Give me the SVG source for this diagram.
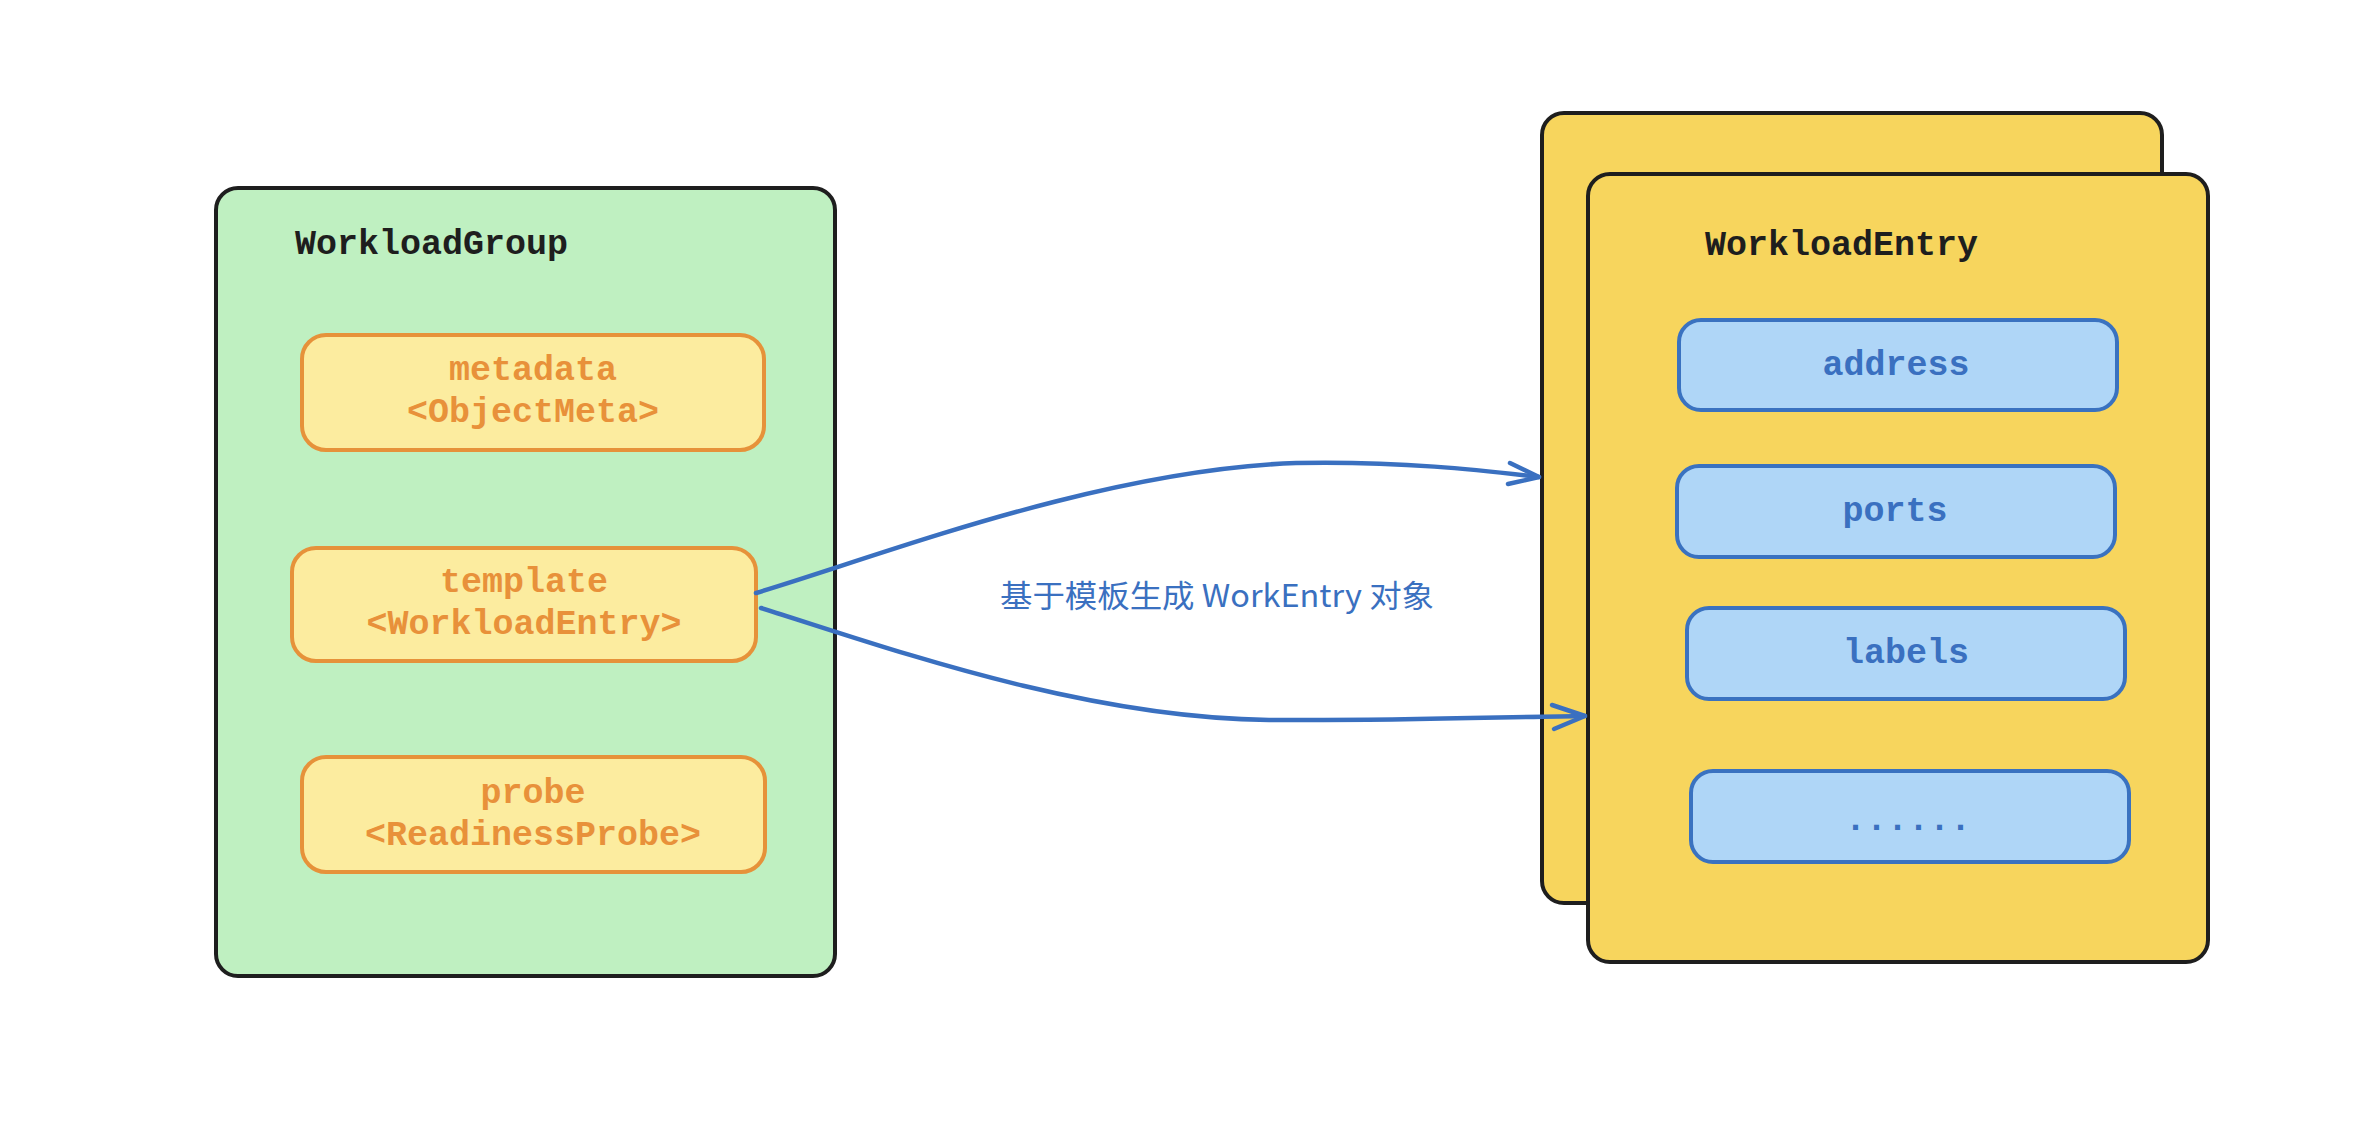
<svg xmlns="http://www.w3.org/2000/svg" width="2366" height="1134" viewBox="0 0 2366 1134">
<defs>
<style>
.mono{font-family:"Liberation Mono","DejaVu Sans Mono",monospace;font-size:35px;}
.title{fill:#1e1e1e;font-weight:bold;}
.otext{fill:#e8913a;font-weight:bold;text-anchor:middle;}
.btext{fill:#3a70c0;font-weight:bold;text-anchor:middle;}
.green{fill:#bff0c1;stroke:#1e1e1e;stroke-width:4;}
.yellow{fill:#f7d55d;stroke:#1e1e1e;stroke-width:4;}
.orange{fill:#fcec9f;stroke:#e6923a;stroke-width:4;}
.blue{fill:#afd6f7;stroke:#3a72c0;stroke-width:4;}
.conn{fill:none;stroke:#3a70c0;stroke-width:4.5;stroke-linecap:round;stroke-linejoin:round;}
.lbl{font-family:"Noto Sans CJK SC","Noto Sans",sans-serif;font-size:31px;fill:#3a70c0;text-anchor:middle;}
</style>
</defs>
<rect width="2366" height="1134" fill="#ffffff"/>

<g id="workloadgroup">
<rect class="green" x="216" y="188" width="619" height="788" rx="22"/>
<text class="mono title" x="295" y="254">WorkloadGroup</text>
</g>

<g id="metadata">
<rect class="orange" x="302" y="335" width="462" height="115" rx="24"/>
<text class="mono otext" x="533" y="380">metadata</text>
<text class="mono otext" x="533" y="422">&lt;ObjectMeta&gt;</text>
</g>

<g id="template">
<rect class="orange" x="292" y="548" width="464" height="113" rx="24"/>
<text class="mono otext" x="524" y="592">template</text>
<text class="mono otext" x="524" y="634">&lt;WorkloadEntry&gt;</text>
</g>

<g id="probe">
<rect class="orange" x="302" y="757" width="463" height="115" rx="24"/>
<text class="mono otext" x="533" y="803">probe</text>
<text class="mono otext" x="533" y="845">&lt;ReadinessProbe&gt;</text>
</g>

<g id="workloadentry-back">
<rect class="yellow" x="1542" y="113" width="620" height="790" rx="22"/>
</g>

<g id="workloadentry">
<rect class="yellow" x="1588" y="174" width="620" height="788" rx="22"/>
<text class="mono title" x="1705" y="255">WorkloadEntry</text>
</g>

<g id="address">
<rect class="blue" x="1679" y="320" width="438" height="90" rx="22"/>
<text class="mono btext" x="1896" y="375">address</text>
</g>

<g id="ports">
<rect class="blue" x="1677" y="466" width="438" height="91" rx="22"/>
<text class="mono btext" x="1895" y="521">ports</text>
</g>

<g id="labels">
<rect class="blue" x="1687" y="608" width="438" height="91" rx="22"/>
<text class="mono btext" x="1906" y="663">labels</text>
</g>

<g id="more">
<rect class="blue" x="1691" y="771" width="438" height="91" rx="22"/>
<text class="mono btext" x="1908" y="830">......</text>
</g>

<g id="connectors">
<path class="conn" d="M756,593 C880,556 1100,470 1296,463 C1400,461 1480,470 1539,477"/>
<path class="conn" d="M1510,463 L1539,477 L1508,484"/>
<path class="conn" d="M761,608 C880,645 1080,718 1269,720 C1400,721 1500,717 1585,716"/>
<path class="conn" d="M1552,705 L1585,716 L1554,729"/>
<text class="lbl" x="1217" y="607" textLength="434" lengthAdjust="spacingAndGlyphs">基于模板生成 WorkEntry 对象</text>
</g>
</svg>
